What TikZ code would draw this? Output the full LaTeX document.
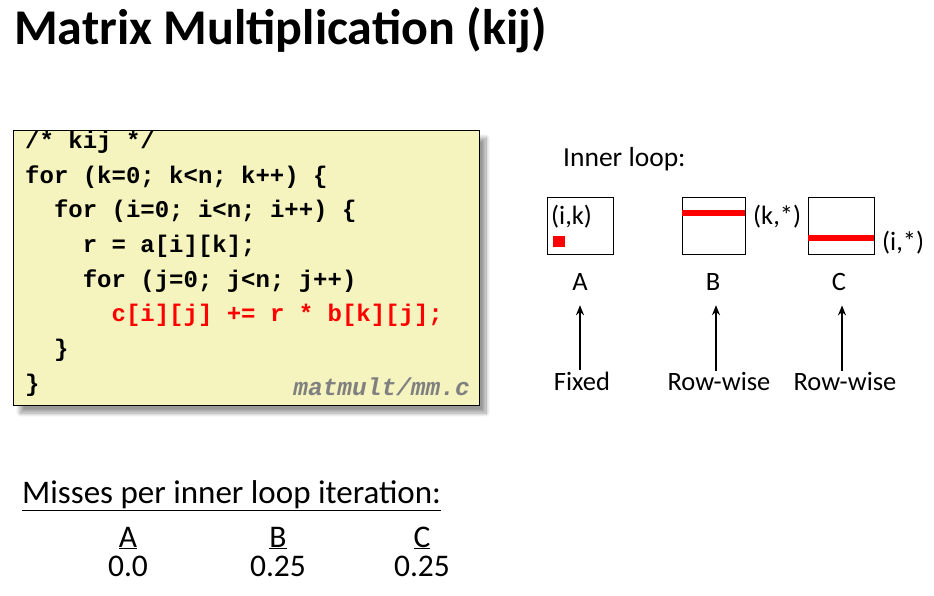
\documentclass[tikz,border=0pt]{standalone}
\usepackage{fontspec}
\setmainfont{Carlito}
\setmonofont{Liberation Mono}
\usepackage{tikz}
\usetikzlibrary{arrows.meta, positioning, shadows.blur}
\definecolor{CodeYellow}{RGB}{245, 243, 190}
\definecolor{HotRed}{RGB}{255, 0, 0}
\definecolor{PathGray}{RGB}{128, 128, 128}

\tikzset{
  codeline/.style={anchor=base west, inner sep=0pt, font=\fontsize{24}{28}\selectfont\ttfamily\bfseries},
  mat/.style={draw=black, line width=0.8pt},
  hotrow/.style={fill=HotRed},
  lbl/.style={inner sep=0pt, font=\fontsize{26.5}{30}\selectfont},
  flow/.style={-{Stealth[length=10pt, width=8pt]}, line width=2.6pt, shorten >=15pt, shorten <=1pt}
}

\begin{document}
\begin{tikzpicture}[x=1pt,y=-1pt]
  \path[use as bounding box] (0,0) rectangle (934,595);

  % Title
  \node[anchor=base west, inner sep=0pt, font=\fontsize{50}{60}\selectfont\bfseries] (title) at (14,44) {Matrix Multiplication (kij)};

  % Code card
  \fill[CodeYellow, blur shadow={shadow xshift=7pt, shadow yshift=-8pt, shadow blur steps=12, shadow blur radius=4pt}] (13,130) rectangle (479,405);
  \draw[black, line width=0.8pt] (13,130) rectangle (479,405);
  \begin{scope}
    \clip (13,130) rectangle (479,405);
    \node[codeline] (l0) at (25,148.5) {/* kij */};
  \end{scope}
  \node[codeline] (l1) at (25,183) {for (k=0; k<n; k++) \{};
  \node[codeline] (l2) at (53.8,217.7) {for (i=0; i<n; i++) \{};
  \node[codeline] (l3) at (82.6,252.4) {r = a[i][k];};
  \node[codeline] (l4) at (82.6,287.1) {for (j=0; j<n; j++)};
  \node[codeline, text=HotRed] (l5) at (111.4,321.8) {c[i][j] += r * b[k][j];};
  \node[codeline] (l6) at (53.8,356.5) {\}};
  \node[codeline] (l7) at (25,391.2) {\}};
  \node[anchor=base east, inner sep=0pt, text=PathGray, font=\fontsize{24.5}{28}\selectfont\ttfamily\bfseries\itshape] (src) at (470,395) {matmult/mm.c};

  % Inner loop access patterns
  \node[anchor=base west, inner sep=0pt, font=\fontsize{27.5}{32}\selectfont] (inner) at (563,166) {Inner loop:};

  \draw[mat] (547,197) rectangle (613,254);
  \fill[hotrow] (553,236) rectangle (565,247);
  \node[lbl, anchor=west] (ik) at (551,217) {(i,k)};

  \draw[mat] (682,197) rectangle (745,254);
  \fill[hotrow] (682,210) rectangle (745,216);
  \node[lbl, anchor=west] (kstar) at (753,217) {(k,*)};

  \draw[mat] (808,197) rectangle (874,254);
  \fill[hotrow] (808,235) rectangle (874,241);
  \node[lbl, anchor=west] (istar) at (882,243) {(i,*)};

  \node[lbl, anchor=base] (matA) at (580,290) {A};
  \node[lbl, anchor=base] (matB) at (713,290) {B};
  \node[lbl, anchor=base] (matC) at (839,290) {C};

  \node[lbl, anchor=base] (accA) at (582,390) {Fixed};
  \node[lbl, anchor=base] (accB) at (719,390) {Row-wise};
  \node[lbl, anchor=base] (accC) at (845,390) {Row-wise};

  \draw[flow] (580,0 |- accA.north) -- (580,0 |- matA.south);
  \draw[flow] (716,0 |- accB.north) -- (716,0 |- matB.south);
  \draw[flow] (842,0 |- accC.north) -- (842,0 |- matC.south);

  % Miss rates
  \node[anchor=base west, inner sep=0pt, font=\fontsize{33}{38}\selectfont] (miss) at (22,503) {\underline{Misses per inner loop iteration:}};
  \foreach \nm/\xc/\rate in {A/128/0.0, B/278/0.25, C/422/0.25}{
    \node[anchor=base, inner sep=0pt, font=\fontsize{31.5}{36}\selectfont] (hd\nm) at (\xc,547) {\underline{\nm}};
    \node[anchor=base, inner sep=0pt, font=\fontsize{31.5}{36}\selectfont] (rt\nm) at (\xc,576) {\rate};
  }
\end{tikzpicture}
\end{document}
